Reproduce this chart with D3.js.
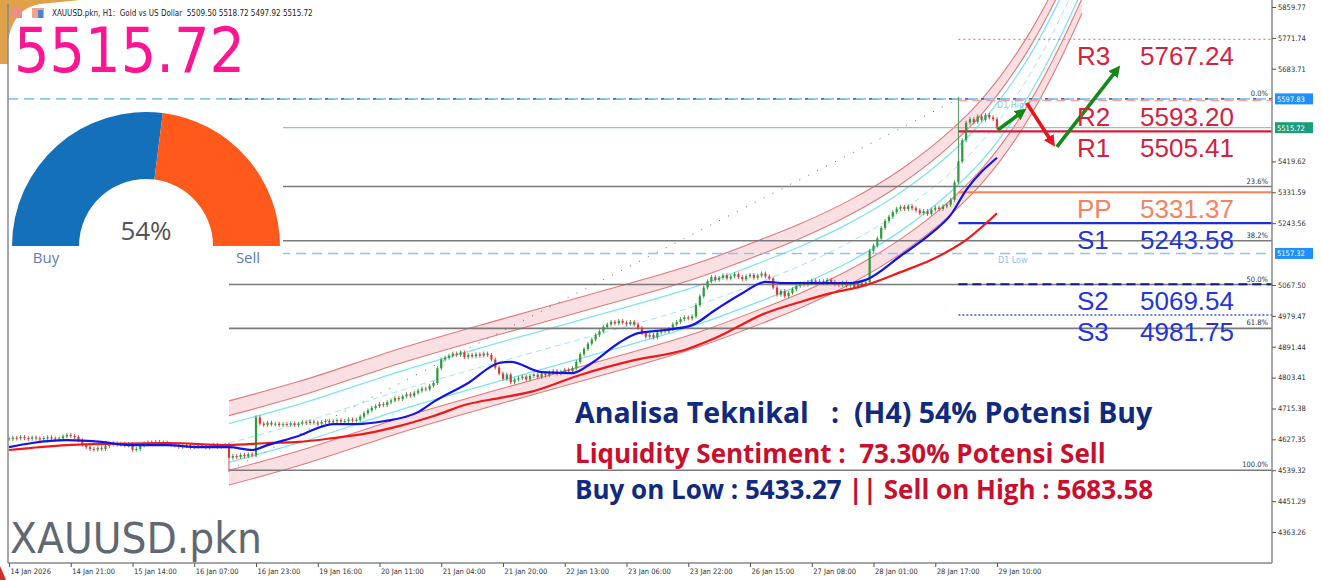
<!DOCTYPE html>
<html>
<head>
<meta charset="utf-8">
<script src="https://cdn.jsdelivr.net/npm/d3@7/dist/d3.min.js"></script>
<style>
body { margin: 0; background: #fff; }
svg { display: block; }
text { white-space: pre; }
</style>
</head>
<body>
<div id="chart"></div>
<script>
// ---- data ----
const closes = [
  4628, 4632, 4630, 4634, 4631, 4629, 4633, 4630, 4628, 4631, 4633, 4630, 4627,
  4630, 4636, 4640, 4637, 4634,
  4625, 4612, 4605, 4600, 4598, 4603, 4600, 4608,
  4613, 4616, 4612, 4615, 4610, 4614,
  4598, 4600, 4610,
  4616, 4619, 4617, 4620, 4615, 4618, 4614, 4612,
  4610, 4606, 4608, 4611, 4605, 4607, 4610, 4608, 4604, 4609, 4611, 4606, 4608, 4612,
  4575,
  4580, 4577, 4583, 4579, 4585, 4582,
  4690,
  4672, 4668, 4675, 4670, 4672, 4668, 4671, 4669, 4673,
  4668, 4672, 4676, 4674, 4678, 4675, 4672, 4677, 4680, 4676, 4679, 4682, 4678, 4680, 4684, 4681, 4683,
  4692, 4702, 4710, 4717,
  4722, 4728, 4725, 4733, 4738, 4745, 4742, 4750, 4756, 4752, 4760, 4766, 4772, 4770, 4780, 4788,
  4830, 4855,
  4860, 4866, 4872, 4868, 4875, 4862, 4868, 4864, 4870, 4866, 4872, 4868,
  4855, 4832, 4815, 4800, 4812, 4790, 4798, 4802,
  4806, 4798, 4808, 4812, 4805, 4815, 4810, 4818, 4822, 4815, 4820, 4826, 4822, 4830,
  4848, 4870, 4885, 4900, 4912, 4925, 4935, 4948, 4955,
  4962, 4958, 4965, 4960, 4956, 4962, 4955,
  4945, 4930, 4920, 4925, 4918,
  4932, 4938, 4935, 4942,
  4955, 4962, 4970, 4975, 4972, 4978,
  5010, 5035, 5060, 5078,
  5090, 5082, 5088, 5095, 5086, 5092, 5098, 5090, 5084, 5092, 5096, 5088, 5094, 5100, 5092, 5086,
  5060, 5040, 5050, 5035, 5045, 5055,
  5065, 5072, 5068, 5076, 5080, 5074, 5078, 5072, 5082, 5076, 5070,
  5068, 5074, 5066, 5070, 5062, 5072, 5068, 5075,
  5165,
  5180, 5200, 5230, 5250, 5262, 5275, 5285, 5290,
  5284, 5292, 5286, 5280, 5272, 5278, 5270, 5282, 5288, 5284, 5292, 5296, 5310,
  5360, 5420, 5480, 5530,
  5540, 5532, 5548, 5538, 5552, 5545, 5540,
  5515.72
];
const firstOpen = 4630;
const lowOverride = { 57: 4539.32 };
const highOverride = { 246: 5597.83 };

const fastIdx = [0, 6, 15, 24, 31, 41, 49, 57, 63, 67, 75, 84, 90, 97, 106, 110, 119, 127, 130, 138, 146, 151, 158, 163, 170, 177, 183, 190, 196, 201, 209, 218, 222, 231, 239, 244, 248, 256];
const fastMA  = [4605, 4617, 4625, 4620, 4611, 4611, 4605, 4605, 4597, 4611, 4637, 4671, 4671, 4679, 4705, 4734, 4788, 4845, 4848, 4819, 4816, 4845, 4902, 4930, 4939, 4953, 4996, 5044, 5076, 5073, 5073, 5073, 5082, 5150, 5215, 5267, 5338, 5430];
const slowIdx = [0, 15, 24, 41, 57, 67, 75, 84, 93, 101, 110, 119, 127, 136, 148, 162, 175, 183, 196, 205, 213, 222, 231, 239, 248, 256];
const slowMA  = [4597, 4611, 4614, 4617, 4611, 4617, 4620, 4631, 4645, 4665, 4694, 4728, 4745, 4765, 4811, 4853, 4882, 4916, 4987, 5019, 5044, 5067, 5104, 5139, 5196, 5272];

// regression channel: centre line and deviations (price)
const chanIdx = [57, 75, 101, 127, 153, 179, 196, 205, 218, 231, 244, 252, 257, 265, 272, 278];
const chanMid = [4617, 4672, 4765, 4848, 4928, 5012, 5082, 5122, 5190, 5276, 5388, 5476, 5544, 5676, 5820, 5961];
const devCyan = 55, devInner = 78, devOuter = 120;

const timeIdx = [0, 16, 32, 48, 64, 80, 96, 112, 128, 144, 160, 176, 192, 208, 224, 240, 256];
const timeLabels = ["14 Jan 2026", "14 Jan 21:00", "15 Jan 14:00", "16 Jan 07:00", "16 Jan 23:00", "19 Jan 16:00",
  "20 Jan 11:00", "21 Jan 04:00", "21 Jan 20:00", "22 Jan 13:00", "23 Jan 06:00", "23 Jan 22:00",
  "26 Jan 15:00", "27 Jan 08:00", "28 Jan 01:00", "28 Jan 17:00", "29 Jan 10:00"];
const priceTicks = [5859.77, 5771.74, 5683.71, 5419.62, 5331.59, 5243.56, 5067.50, 4979.47, 4891.44, 4803.41, 4715.38, 4627.35, 4539.32, 4451.29, 4363.26];
const priceBoxes = [5597.83, 5515.72, 5157.32];
const boxColors = ["#1e8fff", "#1b9e7c", "#1e8fff"];

const fibHigh = 5597.83, fibLow = 4539.32;
const fibLevels = [0, 23.6, 38.2, 50, 61.8, 100];
const d1High = 5597.83, d1Low = 5157.32, lastPrice = 5515.72;

const pivotNames = ["R3", "R2", "R1", "PP", "S1", "S2", "S3"];
const pivotValues = [5767.24, 5593.20, 5505.41, 5331.37, 5243.58, 5069.54, 4981.75];

// arrows: [bar0, price0, bar1, price1]
const arrows = [[256.2, 5509, 262.4, 5560], [263.7, 5586, 270.2, 5475], [271.5, 5461, 287, 5680]];
const arrowColors = ["#15891a", "#e8141c", "#15891a"];

const buyPct = 54;

// ---- layout ----
const W = 1322, H = 580;
const plot = { left: 8, right: 1272, top: 0, bottom: 563 };

const svg = d3.select("#chart").append("svg").attr("width", W).attr("height", H);

const x = d3.scaleLinear().domain([0, 256]).range([9, 997]);
const y = d3.scaleLinear().domain([4363.26, 5859.77]).range([532, 7]);

svg.append("defs").append("clipPath").attr("id", "plotclip")
  .append("rect").attr("x", plot.left).attr("y", plot.top)
  .attr("width", plot.right - plot.left).attr("height", plot.bottom - plot.top);

arrowColors.forEach(function (c, i) {
  svg.select("defs").append("marker")
    .attr("id", "ah" + i).attr("viewBox", "0 0 10 10").attr("refX", 5).attr("refY", 5)
    .attr("markerWidth", 3.2).attr("markerHeight", 3.2).attr("orient", "auto")
    .append("path").attr("d", "M0,0 L10,5 L0,10 z").attr("fill", c);
});

// decorative corner
svg.append("path").attr("d", "M0,0 H80 Q60,2 40,4 Q14,8 8,40 V64 H0 Z").attr("fill", "#dfa24a");
svg.append("path").attr("d", "M0,566 L6,580 H0 Z").attr("fill", "#d42a2a");

const g = svg.append("g").attr("clip-path", "url(#plotclip)");

// channel
const chan = chanIdx.map((d, i) => ({ i: d, m: chanMid[i] }));
const bandArea = (a, b) => d3.area().curve(d3.curveMonotoneX)
  .x(d => x(d.i)).y0(d => y(d.m + a)).y1(d => y(d.m + b));
const bandLine = (a) => d3.line().curve(d3.curveMonotoneX).x(d => x(d.i)).y(d => y(d.m + a));

g.append("path").datum(chan).attr("d", bandArea(devInner, devOuter)).attr("fill", "#fbe0e3");
g.append("path").datum(chan).attr("d", bandArea(-devOuter, -devInner)).attr("fill", "#fbe0e3");
[devOuter, devInner, -devInner, -devOuter].forEach(function (dv) {
  g.append("path").datum(chan).attr("d", bandLine(dv))
    .attr("fill", "none").attr("stroke", "#e07a7a").attr("stroke-width", 1.1);
});
[devCyan, -devCyan].forEach(function (dv) {
  g.append("path").datum(chan).attr("d", bandLine(dv))
    .attr("fill", "none").attr("stroke", "#7fe3f2").attr("stroke-width", 1.3);
});
g.append("path").datum(chan).attr("d", bandLine(0))
  .attr("fill", "none").attr("stroke", "#9fe6f5").attr("stroke-width", 1).attr("stroke-dasharray", "6,4");

// fibonacci
const fibVal = p => fibHigh - (fibHigh - fibLow) * p / 100;
g.append("line").attr("x1", x(57)).attr("y1", y(fibLow)).attr("x2", x(246)).attr("y2", y(fibHigh))
  .attr("stroke", "#666").attr("stroke-width", 1).attr("stroke-dasharray", "1,9");
fibLevels.forEach(function (p) {
  const yy = y(fibVal(p));
  g.append("line").attr("x1", x(57)).attr("x2", plot.right).attr("y1", yy).attr("y2", yy)
    .attr("stroke", p === 0 ? "#666" : "#7a7a7a").attr("stroke-width", 1.6)
    .attr("stroke-dasharray", p === 0 ? "9,7" : null);
  svg.append("text").attr("x", 1268).attr("y", yy - 3).attr("text-anchor", "end")
    .attr("font-family", "DejaVu Sans Condensed, sans-serif").attr("font-size", 7.5).attr("fill", "#333")
    .text(p.toFixed(1) + "%");
});

// D1 high / low
[d1High, d1Low].forEach(function (v) {
  g.append("line").attr("x1", plot.left).attr("x2", plot.right).attr("y1", y(v)).attr("y2", y(v))
    .attr("stroke", "#8cc4f5").attr("stroke-width", 1.6).attr("stroke-dasharray", "10,6");
});
g.append("text").attr("x", 997).attr("y", y(d1High) + 9).attr("font-family", "DejaVu Sans, sans-serif")
  .attr("font-size", 8).attr("fill", "#8cc4f5").text("D1 High");
g.append("text").attr("x", 998).attr("y", y(d1Low) + 10).attr("font-family", "DejaVu Sans, sans-serif")
  .attr("font-size", 8).attr("fill", "#8cc4f5").text("D1 Low");

// current price line
g.append("line").attr("x1", 283).attr("x2", plot.right).attr("y1", y(lastPrice)).attr("y2", y(lastPrice))
  .attr("stroke", "#86cdbd").attr("stroke-width", 1.3);

// pivot lines
const pivStyle = [
  { c: "#ec7f95", w: 1.3, dash: "2,3" },
  { c: "#f2a3a8", w: 1.6, dash: "9,5" },
  { c: "#d81b3c", w: 2.2, dash: null },
  { c: "#ff7f50", w: 2, dash: null },
  { c: "#1c2fd6", w: 2.2, dash: null },
  { c: "#0b1a7e", w: 2, dash: "9,5" },
  { c: "#3a55f0", w: 1.5, dash: "2,2" }
];
const pivTextColor = ["#d6213f", "#d6213f", "#d6213f", "#f4845f", "#2236d8", "#2236d8", "#2236d8"];
pivotValues.forEach(function (v, i) {
  g.append("line").attr("x1", x(246)).attr("x2", plot.right).attr("y1", y(v)).attr("y2", y(v))
    .attr("stroke", pivStyle[i].c).attr("stroke-width", pivStyle[i].w)
    .attr("stroke-dasharray", pivStyle[i].dash);
});

// candles
const bars = closes.map(function (c, i) {
  const o = i ? closes[i - 1] : firstOpen;
  return { i: i, o: o, c: c,
    h: highOverride[i] !== undefined ? highOverride[i] : Math.max(o, c),
    l: lowOverride[i] !== undefined ? lowOverride[i] : Math.min(o, c) };
});
const cg = g.append("g");
cg.selectAll("line").data(bars).join("line")
  .attr("x1", d => x(d.i)).attr("x2", d => x(d.i))
  .attr("y1", d => y(d.h) - 2).attr("y2", d => y(d.l) + 2)
  .attr("stroke", d => d.c >= d.o ? "#2f9a3c" : "#d83a3a").attr("stroke-width", 0.9);
cg.selectAll("rect").data(bars).join("rect")
  .attr("x", d => x(d.i) - 1.1).attr("width", 2.2)
  .attr("y", d => y(Math.max(d.o, d.c)))
  .attr("height", d => Math.max(1, Math.abs(y(d.o) - y(d.c))))
  .attr("fill", d => d.c >= d.o ? "#2f9a3c" : "#d83a3a");

// moving averages
const maLine = d3.line().curve(d3.curveMonotoneX).x(d => x(d[0])).y(d => y(d[1]));
g.append("path").datum(slowIdx.map((d, i) => [d, slowMA[i]])).attr("d", maLine)
  .attr("fill", "none").attr("stroke", "#ee1a1a").attr("stroke-width", 2.2);
g.append("path").datum(fastIdx.map((d, i) => [d, fastMA[i]])).attr("d", maLine)
  .attr("fill", "none").attr("stroke", "#1414e6").attr("stroke-width", 2.2);

// arrows
arrows.forEach(function (a, i) {
  g.append("line").attr("x1", x(a[0])).attr("y1", y(a[1])).attr("x2", x(a[2])).attr("y2", y(a[3]))
    .attr("stroke", arrowColors[i]).attr("stroke-width", 3.6).attr("marker-end", "url(#ah" + i + ")");
});

// pivot labels
pivotValues.forEach(function (v, i) {
  const t = svg.append("g").attr("font-family", "Liberation Sans, Arial, sans-serif")
    .attr("font-size", 26).attr("fill", pivTextColor[i]);
  t.append("text").attr("x", 1077).attr("y", y(v) + 25.5).text(pivotNames[i]);
  t.append("text").attr("x", 1140).attr("y", y(v) + 25.5).text(v.toFixed(2));
});

// frame and axes
const frame = svg.append("g").attr("stroke", "#8a8a8a").attr("stroke-width", 1.5);
frame.append("line").attr("x1", plot.left).attr("x2", plot.left).attr("y1", 4).attr("y2", plot.bottom);

const yAxis = d3.axisRight(y).tickValues(priceTicks).tickSize(4).tickFormat(d => d.toFixed(2));
const ya = svg.append("g").attr("transform", "translate(" + plot.right + ",0)").call(yAxis);
ya.select(".domain").attr("d", "M0,0V" + plot.bottom).attr("stroke", "#8a8a8a").attr("stroke-width", 1.5);
ya.selectAll(".tick line").attr("stroke", "#555");
ya.selectAll(".tick text").attr("x", 6).attr("font-family", "DejaVu Sans Condensed, sans-serif")
  .attr("font-size", 7.5).attr("fill", "#333");

priceBoxes.forEach(function (v, i) {
  svg.append("rect").attr("x", 1275).attr("y", y(v) - 5.5).attr("width", 38).attr("height", 11)
    .attr("fill", boxColors[i]);
  svg.append("text").attr("x", 1277).attr("y", y(v) + 3).attr("font-family", "DejaVu Sans Condensed, sans-serif")
    .attr("font-size", 7.5).attr("fill", "#fff").text(v.toFixed(2));
});

const xAxis = d3.axisBottom(x).tickValues(timeIdx).tickSize(4).tickFormat((d, i) => timeLabels[i]);
const xa = svg.append("g").attr("transform", "translate(0," + plot.bottom + ")").call(xAxis);
xa.select(".domain").attr("d", "M" + plot.left + ",0H" + plot.right).attr("stroke", "#8a8a8a").attr("stroke-width", 1.5);
xa.selectAll(".tick line").attr("stroke", "#555");
xa.selectAll(".tick text").attr("text-anchor", "start").attr("x", 1).attr("y", 6)
  .attr("font-family", "DejaVu Sans Condensed, sans-serif").attr("font-size", 7.5).attr("fill", "#333");

// header
svg.append("rect").attr("x", 12).attr("y", 8).attr("width", 10).attr("height", 10).attr("fill", "#e9908a");
svg.append("rect").attr("x", 32).attr("y", 8).attr("width", 12).attr("height", 10).attr("fill", "#f2a38d");
svg.append("rect").attr("x", 38).attr("y", 10).attr("width", 5).attr("height", 8).attr("fill", "#4a86d8");
svg.append("text").attr("x", 52).attr("y", 16).attr("font-family", "DejaVu Sans Condensed, sans-serif")
  .attr("font-size", 8).attr("fill", "#222")
  .text("XAUUSD.pkn, H1:  Gold vs US Dollar  5509.50 5518.72 5497.92 5515.72");
svg.append("text").attr("x", 14).attr("y", 72).attr("font-family", "DejaVu Sans Condensed, sans-serif")
  .attr("font-size", 62).attr("fill", "#ff1493").attr("textLength", 231).attr("lengthAdjust", "spacingAndGlyphs")
  .text(lastPrice.toFixed(2));

// gauge
svg.append("rect").attr("x", 9).attr("y", 104).attr("width", 274).attr("height", 166).attr("fill", "#fff");
const gc = { x: 146, y: 246 };
const arc = d3.arc().innerRadius(67).outerRadius(134);
const split = -Math.PI / 2 + Math.PI * buyPct / 100;
const gg = svg.append("g").attr("transform", "translate(" + gc.x + "," + gc.y + ")");
gg.append("path").attr("d", arc({ startAngle: -Math.PI / 2, endAngle: split })).attr("fill", "#1470b8");
gg.append("path").attr("d", arc({ startAngle: split, endAngle: Math.PI / 2 })).attr("fill", "#ff5a1c");
gg.append("text").attr("x", 0).attr("y", -6).attr("text-anchor", "middle").attr("font-family", "Open Sans, sans-serif")
  .attr("font-size", 26).attr("fill", "#555").text(buyPct + "%");
gg.append("text").attr("x", -100).attr("y", 17).attr("text-anchor", "middle").attr("font-family", "Open Sans, sans-serif")
  .attr("font-size", 15).attr("fill", "#5a7db8").text("Buy");
gg.append("text").attr("x", 102).attr("y", 17).attr("text-anchor", "middle").attr("font-family", "Open Sans, sans-serif")
  .attr("font-size", 15).attr("fill", "#5a7db8").text("Sell");

// watermark
svg.append("text").attr("x", 10).attr("y", 553).attr("font-family", "DejaVu Sans, sans-serif")
  .attr("font-size", 42).attr("fill", "#5f6875").attr("textLength", 252).attr("lengthAdjust", "spacingAndGlyphs")
  .text("XAUUSD.pkn");

// analysis text
const navy = "#0f2a7e", crimson = "#c8102e";
const tb = svg.append("g").attr("font-family", "Open Sans, sans-serif").attr("font-weight", 700);
tb.append("text").attr("x", 575).attr("y", 423).attr("font-size", 28.5).attr("fill", navy)
  .text("Analisa Teknikal   :  (H4) 54% Potensi Buy");
tb.append("text").attr("x", 575).attr("y", 463).attr("font-size", 26).attr("fill", crimson)
  .text("Liquidity Sentiment :  73.30% Potensi Sell");
const l3 = tb.append("text").attr("x", 575).attr("y", 499).attr("font-size", 26);
l3.append("tspan").attr("fill", navy).text("Buy on Low : 5433.27 ");
l3.append("tspan").attr("fill", crimson).text("|| Sell on High : 5683.58");
</script>
</body>
</html>
